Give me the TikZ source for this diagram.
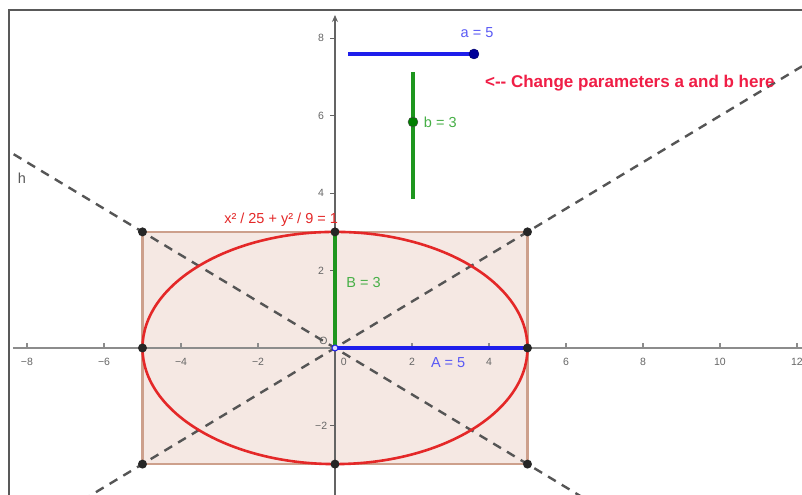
\documentclass[tikz,border=0pt]{standalone}
\usepackage{fontspec}
\setmainfont{Liberation Sans}
\usetikzlibrary{arrows.meta}
\definecolor{gblue}{RGB}{30,30,235}
\definecolor{lblue}{RGB}{90,90,245}
\definecolor{ggreen}{RGB}{30,150,30}
\definecolor{lgreen}{RGB}{70,175,70}
\definecolor{ered}{RGB}{228,40,40}
\definecolor{crim}{RGB}{240,30,70}
\definecolor{rectfill}{RGB}{245,232,227}
\definecolor{rectline}{RGB}{205,160,140}
\definecolor{axcol}{RGB}{140,140,140}
\definecolor{yaxcol}{RGB}{100,100,100}
\definecolor{dashcol}{RGB}{85,85,85}
\tikzset{
  axisline/.style={draw=axcol,line width=2.4pt},
  ticklab/.style={font=\fontsize{10.5}{12}\selectfont,text=black!60},
  dot/.style={circle,fill=black!85,inner sep=0pt,minimum size=9pt},
  dashline/.style={draw=dashcol,line width=2.4pt,dash pattern=on 9pt off 7pt},
  lab/.style={font=\fontsize{14.5}{16}\selectfont},
}
\begin{document}
\begin{tikzpicture}[x=38.5pt,y=38.7pt]
\useasboundingbox (-8.701,-3.798) rectangle (12.130,8.992);
\fill[white] (-8.701,-3.798) rectangle (12.130,8.992);
% frame
\draw[black!65,line width=1.5pt] (-8.467,-3.798) -- (-8.467,8.734) -- (12.130,8.734);
% rectangle
\coordinate (TL) at (-5,3); \coordinate (TR) at (5,3);
\coordinate (BL) at (-5,-3); \coordinate (BR) at (5,-3);
\fill[rectfill] (BL) rectangle (TR);
\draw[rectline,line width=2.6pt] (BL) rectangle (TR);
% axes
\draw[axisline] (-8.364,0) -- (12.130,0);
\draw[axisline,draw=yaxcol,line width=2.2pt,-{Stealth[length=7pt,width=6pt]}] (0,-3.798) -- (0,8.605);
\foreach \x/\t in {-8/−8,-6/−6,-4/−4,-2/−2,2/2,4/4,6/6,8/8,10/10,12/12}{
  \draw[axcol,line width=1.2pt] (\x,0) -- (\x,0.12);
  \node[ticklab] at (\x,-0.37) {\t};
}
\node[ticklab] at (0.23,-0.37) {0};
\foreach \y/\t in {-2/−2,2/2,4/4,6/6,8/8}{
  \draw[yaxcol,line width=1.2pt] (0,\y) -- (-0.12,\y);
  \node[ticklab] at (-0.36,\y) {\t};
}
\node[ticklab] at (-0.3,0.18) {O};
% dashed asymptotes
\begin{scope}
\clip (-8.40,-3.798) rectangle (12.130,8.70);
\draw[dashline] (-8.701,-5.22) -- (12.130,7.278);
\draw[dashline] (-8.701,5.22) -- (12.130,-7.278);
\end{scope}
\node[lab,text=black!65] at (-8.13,4.39) {h};
% ellipse
\draw[ered,line width=2.6pt] (0,0) ellipse [x radius=5,y radius=3];
% semi-axes
\draw[ggreen,line width=3.2pt] (0,0) -- (0,3);
\draw[gblue,line width=3.2pt] (0,0) -- (5,0);
\node[lab,text=lgreen] at (0.74,1.68) {B = 3};
\node[lab,text=lblue] at (2.94,-0.38) {A = 5};
\node[lab,text=ered] at (-1.40,3.31) {x² / 25 + y² / 9 = 1};
% points
\foreach \p in {(-5,3),(0,3),(5,3),(-5,0),(5,0),(-5,-3),(0,-3),(5,-3)}{
  \node[dot] at \p {};
}
\node[circle,draw=gblue,fill=blue!15,inner sep=0pt,minimum size=6pt,line width=1pt] at (0,0) {};
% slider a
\draw[gblue,line width=3.2pt] (0.338,7.597) -- (3.61,7.597);
\node[circle,fill=blue!60!black,draw=blue!40!black,inner sep=0pt,minimum size=10pt] (pa) at (3.61,7.597) {};
\node[lab,text=lblue] at (3.69,8.14) {a = 5};
% slider b
\draw[ggreen,line width=3.2pt] (2.026,3.85) -- (2.026,7.13);
\node[circle,fill=green!50!black,draw=black!70,inner sep=0pt,minimum size=10pt] (pb) at (2.026,5.84) {};
\node[lab,text=lgreen,anchor=west] at (2.22,5.84) {b = 3};
% note
\node[font=\fontsize{17}{19}\selectfont\bfseries,text=crim] at (7.66,6.85) {<-{}- Change parameters a and b here};
\end{tikzpicture}
\end{document}
